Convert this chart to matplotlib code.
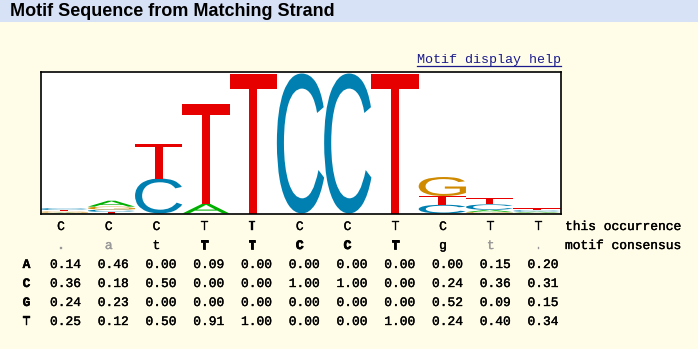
import numpy as np
import matplotlib
matplotlib.use("Agg")
import matplotlib.pyplot as plt
from matplotlib.textpath import TextPath
from matplotlib.patches import PathPatch, Rectangle
from matplotlib.transforms import Affine2D
from matplotlib.font_manager import FontProperties
from matplotlib.lines import Line2D
import matplotlib.patheffects as pe

# ---- data ----
bases = ["A", "C", "G", "T"]
prob_A = [0.14, 0.46, 0.00, 0.09, 0.00, 0.00, 0.00, 0.00, 0.00, 0.15, 0.20]
prob_C = [0.36, 0.18, 0.50, 0.00, 0.00, 1.00, 1.00, 0.00, 0.24, 0.36, 0.31]
prob_G = [0.24, 0.23, 0.00, 0.00, 0.00, 0.00, 0.00, 0.00, 0.52, 0.09, 0.15]
prob_T = [0.25, 0.12, 0.50, 0.91, 1.00, 0.00, 0.00, 1.00, 0.24, 0.40, 0.34]
this_occurrence = ["C", "C", "C", "T", "T", "C", "C", "T", "C", "T", "T"]
consensus = [".", "a", "t", "T", "T", "C", "C", "T", "g", "t", "."]
consensus_style = ["gray", "gray", "normal", "bold", "bold", "bold", "bold", "bold", "normal", "gray", "gray"]
title = "Motif Sequence from Matching Strand"
help_text = "Motif display help"

colors = {"A": "#00b000", "C": "#0080b0", "G": "#d08a00", "T": "#e60000"}
BG = "#fffde8"
HEADER = "#d8e2f6"

W, H = 698, 349
fig = plt.figure(figsize=(W / 100, H / 100), dpi=100, facecolor=BG)

def fx(px):
    return px / W

def fy(py):
    return 1 - py / H

def heavy(color, lw=0.25):
    return [pe.withStroke(linewidth=lw, foreground=color)]

# header band
fig.patches.append(Rectangle((0, fy(22)), 1, 22 / H, transform=fig.transFigure,
                             facecolor=HEADER, edgecolor="none", zorder=0))
fig.text(fx(10), fy(11.5), title, fontsize=13, fontweight="bold",
         family="Liberation Sans", va="center", ha="left", color="#000000")

# help link
fig.text(fx(417), fy(60), help_text, fontsize=9.6, family="Liberation Mono",
         color="#1a1a8c", va="center", ha="left")
fig.lines.append(Line2D([fx(417), fx(561)], [fy(66), fy(66)], transform=fig.transFigure,
                        color="#1a1a8c", lw=0.9))

# logo axes
left, right, top, bottom = 40.5, 560.5, 71.5, 213.5
ax = fig.add_axes([fx(left), fy(bottom), fx(right) - fx(left), (bottom - top) / H])
ax.set_facecolor("white")
ax.set_xlim(0, 11)
ax.set_ylim(0, 2 * (bottom - top) / 140)
ax.set_xticks([])
ax.set_yticks([])
for s in ax.spines.values():
    s.set_linewidth(1.2)
    s.set_color("black")

fp = FontProperties(family="Liberation Sans")
glyph_cache = {}
for b in bases:
    tp = TextPath((0, 0), b, size=1, prop=fp)
    glyph_cache[b] = (tp, tp.get_extents())

probs = np.array([prob_A, prob_C, prob_G, prob_T])
ncol = probs.shape[1]
for i in range(ncol):
    p = probs[:, i]
    nz = p[p > 0]
    ic = 2 + np.sum(nz * np.log2(nz))
    order = sorted(range(4), key=lambda k: p[k])
    y = 0.0
    for k in order:
        if p[k] <= 0:
            continue
        h = p[k] * ic
        tp, bb = glyph_cache[bases[k]]
        t = Affine2D().translate(-bb.x0, -bb.y0).scale(1.0 / bb.width, h / bb.height).translate(i, y)
        ax.add_patch(PathPatch(t.transform_path(tp), facecolor=colors[bases[k]],
                               edgecolor="none", zorder=2))
        y += h

# table
letter_x0, num_x0, dx = 61, 65.5, 47.75
mono = "Liberation Mono"
fs = 9.3
for i in range(ncol):
    fig.text(fx(letter_x0 + dx * i), fy(227), this_occurrence[i], family=mono, fontsize=fs,
             ha="center", va="center", color="black", path_effects=heavy("black"))
    st = consensus_style[i]
    col = "#999999" if st == "gray" else "black"
    fig.text(fx(letter_x0 + dx * i), fy(246), consensus[i], family=mono, fontsize=fs,
             ha="center", va="center", color=col,
             fontweight="bold" if st == "bold" else "normal",
             path_effects=heavy(col, 0.6 if st == "bold" else 0.25))
fig.text(fx(565), fy(227), "this occurrence", family=mono, fontsize=fs, ha="left", va="center",
         path_effects=heavy("black"))
fig.text(fx(565), fy(246), "motif consensus", family=mono, fontsize=fs, ha="left", va="center",
         path_effects=heavy("black"))

row_y = [265, 284, 303, 322]
for r, b in enumerate(bases):
    fig.text(fx(26.5), fy(row_y[r]), b, family=mono, fontsize=fs, ha="center", va="center",
             fontweight="bold", path_effects=heavy("black", 0.3))
    for i in range(ncol):
        fig.text(fx(num_x0 + dx * i), fy(row_y[r]), f"{probs[r, i]:.2f}", family=mono,
                 fontsize=fs, ha="center", va="center", path_effects=heavy("black"))

fig.savefig("out.png", dpi=100, facecolor=BG)
